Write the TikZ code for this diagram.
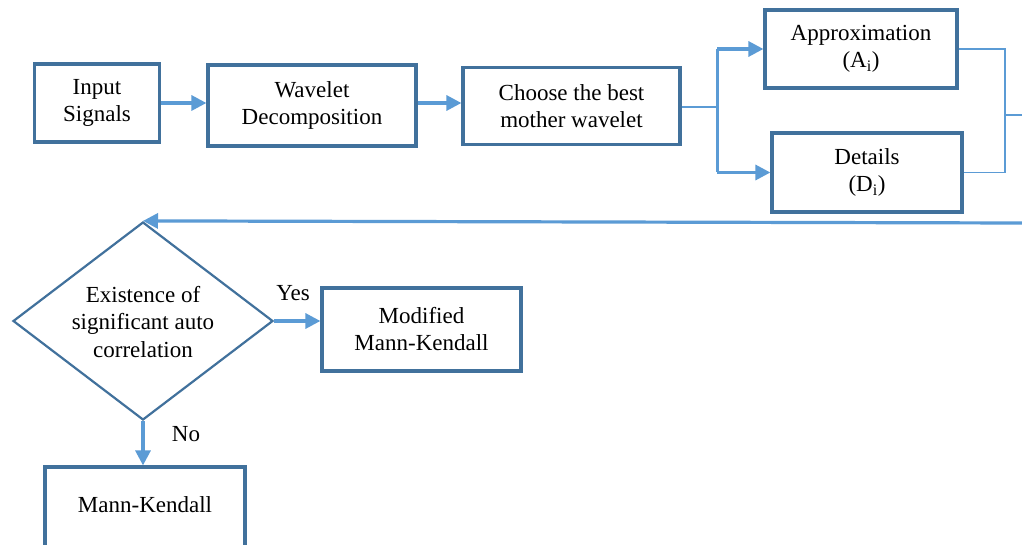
\documentclass[tikz,border=0pt]{standalone}
\usepackage{fontspec}
\setmainfont{Liberation Serif}
\usetikzlibrary{shapes.geometric,arrows.meta}
\definecolor{boxc}{HTML}{41719C}
\definecolor{arrc}{HTML}{5B9BD5}
\tikzset{
  blk/.style={draw=boxc,line width=3.2pt,rectangle,inner sep=0pt,align=center,font=\fontsize{23}{27}\selectfont},
  txt/.style={inner sep=0pt,align=center,font=\fontsize{23}{27.5}\selectfont},
  arr/.style={draw=arrc,line width=3.2pt,-{Triangle[length=15pt,width=15pt]}},
  thn/.style={draw=arrc,line width=1.6pt},
  thk/.style={draw=arrc,line width=3pt},
}
\begin{document}
\begin{tikzpicture}[x=1pt,y=-1pt]
\useasboundingbox (0,0) rectangle (1022,545);
\clip (0,0) rectangle (1022,545);
\fill[white] (0,0) rectangle (1022,545);
% boxes
\node[blk,minimum width=125,minimum height=78] (in) at (97,103) {Input\\Signals};
\node[blk,minimum width=208,minimum height=81] (wd) at (312,105.5) {Wavelet\\Decomposition};
\node[blk,minimum width=217,minimum height=77] (cb) at (571.5,106) {Choose the best\\mother wavelet};
\node[blk,minimum width=192,minimum height=78] (ap) at (861,49) {Approximation\\(A\textsubscript{i})};
\node[blk,minimum width=190,minimum height=79] (de) at (867,172.5) {Details\\(D\textsubscript{i})};
\node[draw=boxc,line width=2.2pt,diamond,minimum width=260,minimum height=198,inner sep=0pt] (dm) at (143,321) {};
\node[txt] (dmt) at (143,322) {Existence of\\significant auto\\correlation};
\node[blk,minimum width=199,minimum height=83] (mk) at (421.5,329.5) {Modified\\Mann-Kendall};
\node[blk,minimum width=200,minimum height=92] (mkd) at (145,513) {};
\node[txt] (mkdt) at (145,505) {Mann-Kendall};
% labels
\node[txt] (yes) at (293,293) {Yes};
\node[txt] (no) at (186,434) {No};
% connectors
\draw[arr] (in.east) -- (wd.west |- in.east);
\draw[arr] (wd.east |- in.east) -- (cb.west |- in.east);
\coordinate (j) at (717,107);
\draw[thn] (cb.east |- j) -- (j);
\draw[thk] (j) -- (j |- ap.west);
\draw[thk] (j) -- (j |- de.west);
\draw[arr] (j |- ap.west) -- (ap.west);
\draw[arr] (j |- de.west) -- (de.west);
\coordinate (k) at (1005,115);
\coordinate (r1) at (1022,115);
\coordinate (r2) at (1022,223);
\draw[thn] (ap.east) -| (k) |- (de.east);
\draw[thn] (k) -- (r1);
\draw[arr] (r2) -- (dm.north);
\draw[arr] (dm.east) -- (dm.east -| mk.west);
\draw[arr] (dm.south) -- (dm.south |- mkd.north);
\end{tikzpicture}
\end{document}
